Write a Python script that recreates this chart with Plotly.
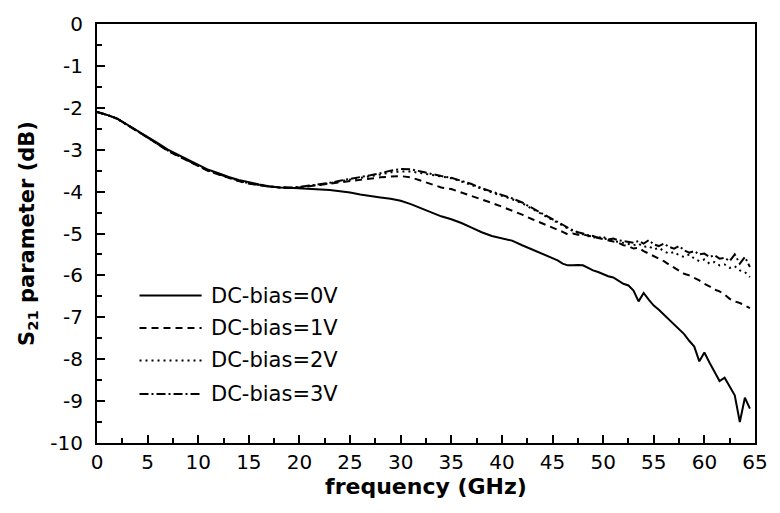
import plotly.graph_objects as go

freq = [0, 1, 2, 3, 4, 5, 6, 7, 8, 9, 10, 11, 12, 13, 14, 15, 16, 17, 18, 19,
        20, 21, 22, 23, 24, 25, 26, 27, 28, 29, 30, 31, 32, 33, 34, 35, 36, 37, 38, 39,
        40, 41, 42, 43, 44, 45, 45.5, 46, 46.5, 47, 47.5, 48, 48.5, 49, 49.5,
        50, 50.5, 51, 51.5, 52, 52.5, 53, 53.5, 54, 54.5, 55, 55.5, 56, 56.5, 57, 57.5,
        58, 58.5, 59, 59.5, 60, 60.5, 61, 61.5, 62, 62.5, 63, 63.5, 64, 64.5]

s21_0V = [-2.10, -2.17, -2.26, -2.40, -2.56, -2.70, -2.84, -3.00, -3.12, -3.25,
          -3.36, -3.48, -3.56, -3.65, -3.72, -3.78, -3.83, -3.87, -3.90, -3.91,
          -3.92, -3.93, -3.95, -3.96, -3.99, -4.02, -4.07, -4.11, -4.14, -4.17,
          -4.22, -4.30, -4.40, -4.50, -4.59, -4.66, -4.75, -4.86, -4.97, -5.06,
          -5.12, -5.17, -5.28, -5.38, -5.48, -5.58, -5.64, -5.72, -5.76, -5.76, -5.75,
          -5.76, -5.82, -5.88, -5.92, -5.98, -6.02, -6.05, -6.12, -6.20, -6.24,
          -6.36, -6.62, -6.42, -6.58, -6.72, -6.82, -6.94, -7.06, -7.18, -7.30,
          -7.40, -7.56, -7.70, -8.05, -7.84, -8.08, -8.30, -8.52, -8.44, -8.66,
          -8.86, -9.50, -8.92, -9.18]

s21_1V = [-2.10, -2.17, -2.26, -2.40, -2.56, -2.71, -2.86, -3.03, -3.15, -3.28,
          -3.39, -3.51, -3.59, -3.68, -3.75, -3.81, -3.85, -3.88, -3.90, -3.91,
          -3.90, -3.87, -3.84, -3.80, -3.77, -3.74, -3.72, -3.69, -3.66, -3.64,
          -3.63, -3.66, -3.74, -3.83, -3.90, -3.94, -4.02, -4.10, -4.18, -4.27,
          -4.36, -4.45, -4.55, -4.66, -4.76, -4.86, -4.90, -4.96, -5.02, -5.00, -5.03,
          -5.02, -5.05, -5.08, -5.10, -5.14, -5.16, -5.20, -5.22, -5.28, -5.30,
          -5.36, -5.34, -5.42, -5.48, -5.55, -5.60, -5.66, -5.74, -5.82, -5.88,
          -5.96, -6.00, -6.06, -6.12, -6.20, -6.26, -6.34, -6.38, -6.46, -6.56,
          -6.62, -6.66, -6.72, -6.78]

s21_2V = [-2.10, -2.17, -2.26, -2.40, -2.56, -2.71, -2.86, -3.02, -3.14, -3.27,
          -3.38, -3.50, -3.58, -3.67, -3.74, -3.80, -3.84, -3.88, -3.90, -3.91,
          -3.90, -3.86, -3.84, -3.80, -3.76, -3.72, -3.68, -3.63, -3.59, -3.54,
          -3.52, -3.52, -3.56, -3.60, -3.64, -3.68, -3.76, -3.84, -3.93, -4.02,
          -4.10, -4.18, -4.28, -4.42, -4.55, -4.68, -4.74, -4.82, -4.88, -4.94, -4.98,
          -5.02, -5.06, -5.10, -5.08, -5.14, -5.12, -5.18, -5.20, -5.22, -5.25,
          -5.28, -5.24, -5.32, -5.30, -5.38, -5.34, -5.42, -5.48, -5.44, -5.52,
          -5.56, -5.50, -5.60, -5.66, -5.62, -5.72, -5.68, -5.76, -5.74, -5.82,
          -5.78, -5.88, -5.92, -6.04]

s21_3V = [-2.10, -2.17, -2.26, -2.40, -2.56, -2.71, -2.86, -3.02, -3.14, -3.27,
          -3.38, -3.50, -3.58, -3.67, -3.74, -3.80, -3.84, -3.88, -3.90, -3.91,
          -3.89, -3.86, -3.83, -3.79, -3.74, -3.70, -3.66, -3.61, -3.56, -3.50,
          -3.46, -3.47, -3.52, -3.58, -3.63, -3.67, -3.74, -3.82, -3.92, -4.00,
          -4.08, -4.16, -4.26, -4.40, -4.52, -4.66, -4.72, -4.80, -4.86, -4.92, -4.97,
          -5.00, -5.04, -5.06, -5.10, -5.08, -5.14, -5.12, -5.16, -5.18, -5.20,
          -5.22, -5.18, -5.24, -5.16, -5.26, -5.30, -5.24, -5.32, -5.36, -5.30,
          -5.40, -5.46, -5.42, -5.50, -5.48, -5.56, -5.52, -5.60, -5.58, -5.66,
          -5.50, -5.72, -5.56, -5.80]

series_names = ["DC-bias=0V", "DC-bias=1V", "DC-bias=2V", "DC-bias=3V"]
series_vals = [s21_0V, s21_1V, s21_2V, s21_3V]
dashes = ["solid", "7px,5px", "2px,4px", "9px,3px,2px,3px"]

x_ticks = [0, 5, 10, 15, 20, 25, 30, 35, 40, 45, 50, 55, 60, 65]
x_ticktext = ["0", "5", "10", "15", "20", "25", "30", "35", "40", "45", "50", "55", "60", "65"]
y_ticks = [0, -1, -2, -3, -4, -5, -6, -7, -8, -9, -10]
y_ticktext = ["0", "-1", "-2", "-3", "-4", "-5", "-6", "-7", "-8", "-9", "-10"]

FONT = "DejaVu Sans"

fig = go.Figure()
for name, vals, dsh in zip(series_names, series_vals, dashes):
    fig.add_trace(go.Scatter(x=freq, y=vals, mode="lines", name=name,
                             line=dict(color="black", width=2, dash=dsh),
                             showlegend=False))

# legend drawn manually (long line samples like the original)
leg_y = [0.352, 0.2746, 0.197, 0.117]
for name, dsh, yy in zip(series_names, dashes, leg_y):
    fig.add_shape(type="line", xref="paper", yref="paper", x0=0.0646, x1=0.159,
                  y0=yy, y1=yy, line=dict(color="black", width=2, dash=dsh))
    fig.add_annotation(xref="paper", yref="paper", x=0.1697, y=yy, text=name,
                       showarrow=False, xanchor="left", yanchor="middle",
                       font=dict(family=FONT, size=21, color="black"))

axis_common = dict(showline=True, linecolor="black", linewidth=2, mirror=True,
                   ticks="inside", ticklen=8, tickwidth=1.5, tickcolor="black",
                   showgrid=False, zeroline=False,
                   tickfont=dict(family=FONT, size=20, color="black"))

fig.update_xaxes(range=[0, 65], tickvals=x_ticks, ticktext=x_ticktext,
                 minor=dict(dtick=2.5, ticks="inside", ticklen=5, tickwidth=1.5, tickcolor="black"),
                 title=dict(text="<b>frequency (GHz)</b>", standoff=0,
                            font=dict(family=FONT, size=22, color="black")),
                 **axis_common)
fig.update_yaxes(range=[-10, 0], tickvals=y_ticks, ticktext=y_ticktext,
                 minor=dict(dtick=0.5, ticks="inside", ticklen=5, tickwidth=1.5, tickcolor="black"),
                 title=dict(text="<b>S<sub>21</sub> parameter (dB)</b>", standoff=10,
                            font=dict(family=FONT, size=21, color="black")),
                 ticklabelstandoff=8,
                 **axis_common)

fig.update_layout(width=780, height=513, margin=dict(l=97, r=17, t=17, b=70),
                  plot_bgcolor="white", paper_bgcolor="white")

fig.write_html("out.html")
